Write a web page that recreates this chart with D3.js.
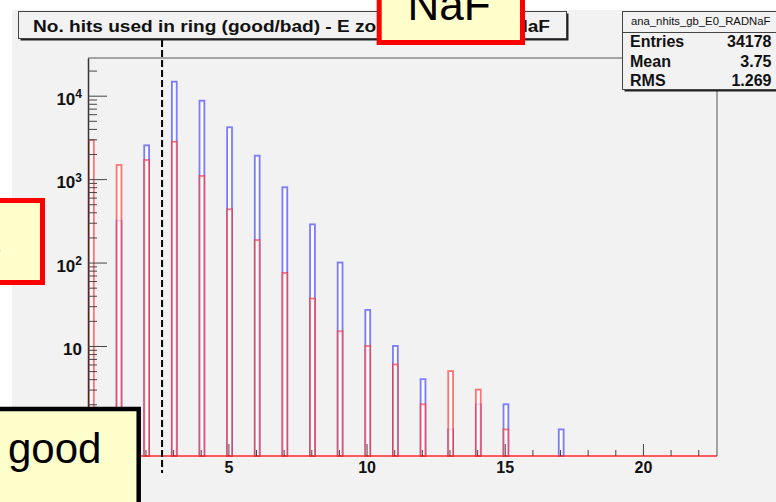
<!DOCTYPE html>
<html><head><meta charset="utf-8">
<script src="https://cdn.jsdelivr.net/npm/d3@7"></script>
<style>
html,body{margin:0;padding:0;background:#fff;}
svg{display:block;font-family:"Liberation Sans",Arial,Helvetica,sans-serif;}
</style></head><body>
<svg id="c" width="776" height="502"></svg>
<script>
// Hit multiplicity per ring: integer bins 0..17
const bins = d3.range(0, 18);
const goodHits = [0, 317, 2540, 14720, 8710, 4180, 1910, 798, 287, 100, 27, 10, 4, 1, 2, 2, 0, 1];
const badHits  = [2940, 1476, 1695, 2805, 1090, 435, 186, 75, 37, 15, 10, 6, 2, 5, 3, 1, 0, 0];

const xMajorTicks = [5, 10, 15, 20];
const xMinorTicks = d3.range(0, 23).filter(v => v % 5 !== 0);
const yMajorTicks = [1, 10, 100, 1000, 10000];
const yExponents  = [null, null, "2", "3", "4"];

const histTitle = "No. hits used in ring (good/bad) - E zone 0 - Radiator NaF";
const statsName = "ana_nhits_gb_E0_RADNaF";
const statsLabels = ["Entries", "Mean", "RMS"];
const statsValues = ["34178", "3.75", "1.269"];
const cutValue = 2.6;

const svg = d3.select("#c");
const L = 88, R = 717, T = 58, B = 456;

const x = d3.scaleLinear().domain([-0.08, 22.68]).range([L, R]);
const y = d3.scaleLog().domain([0.48, 28300]).range([B, T]);

// pad background
svg.append("rect").attr("x", 12).attr("y", 10).attr("width", 764).attr("height", 492).attr("fill", "#f2f2f2");

// histogram bars
const barL = 0.045, barR = 0.13;
function drawHist(counts, color) {
  svg.append("g").selectAll("rect")
    .data(bins.filter(i => counts[i] > 0))
    .join("rect")
    .attr("x", i => x(i - barL))
    .attr("width", i => x(i + barR) - x(i - barL))
    .attr("y", i => y(counts[i]))
    .attr("height", i => B - y(counts[i]))
    .attr("fill", "#ffffff")
    .attr("fill-opacity", 0.75)
    .attr("stroke", color)
    .attr("stroke-width", 1.8);
}
drawHist(goodHits, "rgba(40,40,255,0.6)");
drawHist(badHits, "rgba(255,30,30,0.6)");

// histogram baseline along empty bins
svg.append("line").attr("x1", L).attr("x2", R).attr("y1", B).attr("y2", B)
  .attr("stroke", "rgba(255,40,40,0.75)").attr("stroke-width", 2);

// frame (top/right)
svg.append("path").attr("d", `M${L},${T}H${R}V${B}`).attr("fill", "none").attr("stroke", "#555").attr("stroke-width", 1);

// y axis: major ticks (the label at 1 sits under the "good" note, so it is left blank)
const yAxis = svg.append("g").attr("transform", `translate(${L},0)`)
  .call(d3.axisLeft(y).tickValues(yMajorTicks).tickSizeInner(-19).tickSizeOuter(0).tickPadding(7).tickFormat(() => ""));
yAxis.select(".domain").attr("stroke", "#333").attr("stroke-width", 1.5);
yAxis.selectAll(".tick line").attr("stroke", "#444");
yAxis.selectAll(".tick text").each(function (d, i) {
  const t = d3.select(this)
    .attr("font-size", 17).attr("font-weight", "bold").attr("fill", "#111")
    .attr("font-family", "'Liberation Sans',Arial,sans-serif")
    .attr("dy", "0.52em");
  const e = yExponents[i];
  if (d === 1) return;
  if (e === null) {
    t.text("10");
  } else {
    t.append("tspan").text("10");
    t.append("tspan").attr("font-size", 12).attr("dy", "-0.55em").text(e);
  }
});
yAxis.selectAll(".tick text").attr("x", -6);

// y axis: minor ticks
const yMinor = [];
for (let d = -1; d <= 4; d++) for (let k = 2; k <= 9; k++) {
  const v = k * Math.pow(10, d);
  if (v >= 0.48 && v <= 28300) yMinor.push(v);
}
svg.append("g").attr("transform", `translate(${L},0)`)
  .call(d3.axisLeft(y).tickValues(yMinor).tickSizeInner(-9).tickSizeOuter(0).tickFormat(() => ""))
  .call(g => g.select(".domain").remove())
  .selectAll(".tick line").attr("stroke", "#444");

// x axis: major ticks with labels
const xAxis = svg.append("g").attr("transform", `translate(0,${B})`)
  .call(d3.axisBottom(x).tickValues(xMajorTicks).tickSizeInner(-12).tickSizeOuter(0).tickPadding(6).tickFormat(d3.format("d")));
xAxis.select(".domain").remove();
xAxis.selectAll(".tick line").attr("stroke", "#444");
xAxis.selectAll(".tick text").attr("font-size", 16).attr("font-weight", "bold").attr("fill", "#111")
  .attr("font-family", "'Liberation Sans',Arial,sans-serif");

// x axis: minor ticks
svg.append("g").attr("transform", `translate(0,${B})`)
  .call(d3.axisBottom(x).tickValues(xMinorTicks).tickSizeInner(-6).tickSizeOuter(0).tickFormat(() => ""))
  .call(g => g.select(".domain").remove())
  .selectAll(".tick line").attr("stroke", "#444");

// cut line
svg.append("line").attr("x1", x(cutValue)).attr("x2", x(cutValue)).attr("y1", 40).attr("y2", 473)
  .attr("stroke", "#000").attr("stroke-width", 2).attr("stroke-dasharray", "7,3");

// title box
svg.append("rect").attr("x", 20.5).attr("y", 13.5).attr("width", 548).attr("height", 27).attr("fill", "#222");
svg.append("rect").attr("x", 18.5).attr("y", 11.5).attr("width", 548).attr("height", 27)
  .attr("fill", "#f2f2f2").attr("stroke", "#444").attr("stroke-width", 1);
svg.append("text").attr("x", 33).attr("y", 32).attr("font-size", 16).attr("font-weight", "bold")
  .attr("textLength", 517).attr("lengthAdjust", "spacingAndGlyphs").attr("fill", "#111").text(histTitle);

// statistics box
svg.append("rect").attr("x", 624.5).attr("y", 13.5).attr("width", 170).attr("height", 78).attr("fill", "#222");
svg.append("rect").attr("x", 622.5).attr("y", 11.5).attr("width", 170).attr("height", 78)
  .attr("fill", "#f2f2f2").attr("stroke", "#444").attr("stroke-width", 1);
svg.append("line").attr("x1", 622.5).attr("x2", 776).attr("y1", 32.5).attr("y2", 32.5).attr("stroke", "#444");
svg.append("text").attr("x", 700.7).attr("y", 24.5).attr("text-anchor", "middle").attr("font-size", 11.3)
  .attr("fill", "#111").text(statsName);
const rowY = [46.7, 66.5, 86];
svg.append("g").selectAll("text.lab").data(statsLabels).join("text")
  .attr("x", 630).attr("y", (d, i) => rowY[i]).attr("font-size", 16).attr("font-weight", "bold").attr("fill", "#111").text(d => d);
svg.append("g").selectAll("text.val").data(statsValues).join("text")
  .attr("x", 771.5).attr("y", (d, i) => rowY[i]).attr("text-anchor", "end").attr("font-size", 16).attr("font-weight", "bold").attr("fill", "#111").text(d => d);

// annotation boxes
const noteFill = "#ffffcc";
svg.append("rect").attr("x", 379.2).attr("y", -20).attr("width", 143.3).attr("height", 62.5)
  .attr("fill", noteFill).attr("stroke", "#ff0000").attr("stroke-width", 5);
svg.append("text").attr("x", 449).attr("y", 20).attr("text-anchor", "middle").attr("font-size", 44).attr("fill", "#000").text("NaF");

svg.append("rect").attr("x", -20).attr("y", 200.5).attr("width", 62.5).attr("height", 82)
  .attr("fill", noteFill).attr("stroke", "#ff0000").attr("stroke-width", 5);
svg.append("text").attr("x", 1.5).attr("y", 263).attr("text-anchor", "end").attr("font-size", 42).attr("fill", "#000").text("bad one");

svg.append("rect").attr("x", -20).attr("y", 409).attr("width", 158.7).attr("height", 120)
  .attr("fill", noteFill).attr("stroke", "#000").attr("stroke-width", 4.5);
svg.append("text").attr("x", 8).attr("y", 463).attr("font-size", 42).attr("fill", "#000").text("good");
</script>
</body></html>
